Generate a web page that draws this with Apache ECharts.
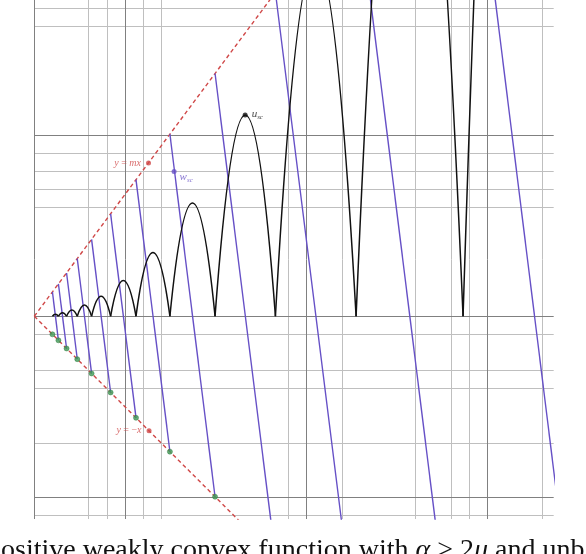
<!DOCTYPE html>
<html>
<head>
<meta charset="utf-8">
<script src="https://cdn.jsdelivr.net/npm/echarts@6/dist/echarts.min.js"></script>
<style>
html, body { margin: 0; padding: 0; background: #fff; }
#chart { width: 586px; height: 554px; }
</style>
</head>
<body>
<div id="chart"></div>
<script>
// visible window, in graph units
const xMin = 0, xMax = 28.65, yMin = -11.2, yMax = 17.47;

// grid lines that are drawn in the figure
const gridXMajor = [0, 5, 15, 25];
const gridXMinor = [3, 4, 6, 7, 14, 17, 21, 23, 24, 28];
const gridYMajor = [10, 0, -10];
const gridYMinor = [17, 16, 9, 8, 7, 6, -1, -3, -4, -7, -11];

// the two cone lines
const lineMx = [[0, 0], [14, 18.83]];
const lineNegX = [[0, 0], [12, -12]];

// u_sc: zeros and arch heights
const uZeros = [1.0, 1.33, 1.78, 2.37, 3.16, 4.21, 5.61, 7.48, 9.97, 13.3, 17.75, 23.65, 31.5];
const uPeaks = [0.11, 0.2, 0.35, 0.62, 1.1, 1.97, 3.52, 6.25, 11.12, 19.7, 35.0, 62.2];

// w_sc: falling pieces, from the top line to the bottom line
const wStarts = [[1.0, 1.35], [1.33, 1.79], [1.78, 2.39], [2.37, 3.19], [3.16, 4.25], [4.21, 5.66],
                 [5.61, 7.55], [7.48, 10.06], [9.97, 13.41], [13.3, 17.89], [17.75, 23.87], [23.65, 31.81]];
const wEnds = [[1.33, -1.33], [1.78, -1.78], [2.37, -2.37], [3.16, -3.16], [4.21, -4.21], [5.61, -5.61],
               [7.48, -7.48], [9.97, -9.97], [13.3, -13.3], [17.75, -17.75], [23.65, -23.65], [31.5, -31.5]];

// green points on y = -x
const hitPoints = [[1.0, -1.0], [1.33, -1.33], [1.78, -1.78], [2.37, -2.37], [3.16, -3.16],
                   [4.21, -4.21], [5.61, -5.61], [7.48, -7.48], [9.97, -9.97]];

// labelled points
const ptMx = [6.3, 8.47];
const ptNegX = [6.33, -6.33];
const ptW = [7.71, 8.0];
const ptU = [11.63, 11.12];

const RED = '#d04848';
const BLUE = '#6650c6';
const GREEN = '#3f9a55';

const chart = echarts.init(document.getElementById('chart'));

function vLines(xs) {
    return xs.map(x => ({ coords: [[x, yMin], [x, yMax]] }));
}
function hLines(ys) {
    return ys.map(y => ({ coords: [[xMin, y], [xMax, y]] }));
}

const arches = [];
for (let i = 0; i < uPeaks.length; i++) {
    arches.push([uZeros[i], uZeros[i + 1], uPeaks[i]]);
}

const wPieces = wStarts.map((s, i) => ({ coords: [s, wEnds[i]] }));

const serifIt = { fontFamily: 'Liberation Serif', fontStyle: 'italic' };

const option = {
    animation: false,
    grid: { left: 34.3, right: 32.3, top: 0, bottom: 35 },
    xAxis: {
        type: 'value', min: xMin, max: xMax,
        axisLine: { show: false }, axisTick: { show: false },
        axisLabel: { show: false }, splitLine: { show: false }
    },
    yAxis: {
        type: 'value', min: yMin, max: yMax,
        axisLine: { show: false }, axisTick: { show: false },
        axisLabel: { show: false }, splitLine: { show: false }
    },
    graphic: [{
        type: 'text',
        left: 1,
        top: 537,
        silent: true,
        style: {
            text: 'ositive weakly convex function with {i|α} > 2{i|μ} and unb',
            font: '28px "Liberation Serif"',
            fill: '#111',
            rich: {
                i: { fontFamily: 'Liberation Serif', fontSize: 28, fontStyle: 'italic', fill: '#111' }
            }
        }
    }],
    series: [
        {
            type: 'lines', coordinateSystem: 'cartesian2d', silent: true, z: 1,
            lineStyle: { color: '#bfbfbf', width: 1, opacity: 1 },
            data: vLines(gridXMinor).concat(hLines(gridYMinor))
        },
        {
            type: 'lines', coordinateSystem: 'cartesian2d', silent: true, z: 2,
            lineStyle: { color: '#808080', width: 1, opacity: 1 },
            data: vLines(gridXMajor).concat(hLines(gridYMajor))
        },
        {
            type: 'lines', coordinateSystem: 'cartesian2d', silent: true, z: 3,
            lineStyle: { color: RED, width: 1.4, type: [4, 3], opacity: 1 },
            data: [{ coords: lineMx }, { coords: lineNegX }]
        },
        {
            type: 'lines', coordinateSystem: 'cartesian2d', silent: true, z: 4,
            lineStyle: { color: BLUE, width: 1.4, opacity: 1 },
            data: wPieces
        },
        {
            type: 'custom', clip: true, silent: true, z: 4,
            data: arches,
            renderItem: function (params, api) {
                const a = api.value(0), b = api.value(1), h = api.value(2);
                const p0 = api.coord([a, 0]);
                const p1 = api.coord([b, 0]);
                const c = api.coord([(a + b) / 2, 2 * h]);
                return {
                    type: 'bezierCurve',
                    shape: { x1: p0[0], y1: p0[1], x2: p1[0], y2: p1[1], cpx1: c[0], cpy1: c[1] },
                    style: { stroke: '#111', lineWidth: 1.5, fill: null }
                };
            }
        },
        {
            type: 'scatter', silent: true, z: 5,
            symbol: 'circle', symbolSize: 5,
            itemStyle: { color: GREEN, borderColor: '#2f7a40', borderWidth: 0.6 },
            data: hitPoints
        },
        {
            type: 'scatter', silent: true, z: 6,
            symbol: 'circle', symbolSize: 5,
            itemStyle: { color: RED },
            label: {
                show: true, position: 'left', distance: 5,
                color: RED, fontSize: 10, fontFamily: 'Liberation Serif',
                formatter: p => p.data.name,
                rich: { it: Object.assign({ color: RED, fontSize: 10 }, serifIt) }
            },
            data: [
                { value: ptMx, name: '{it|y} = {it|mx}' },
                { value: ptNegX, name: '{it|y} = −{it|x}' }
            ]
        },
        {
            type: 'scatter', silent: true, z: 6,
            symbol: 'circle', symbolSize: 5,
            itemStyle: { color: BLUE },
            label: {
                show: true, position: [8, 2],
                formatter: '{v|w}{s|sc}',
                rich: {
                    v: Object.assign({ color: BLUE, fontSize: 11 }, serifIt),
                    s: Object.assign({ color: BLUE, fontSize: 7, padding: [6, 0, 0, 0] }, serifIt)
                }
            },
            data: [ptW]
        },
        {
            type: 'scatter', silent: true, z: 6,
            symbol: 'circle', symbolSize: 5,
            itemStyle: { color: '#111' },
            label: {
                show: true, position: [9, -5],
                formatter: '{v|u}{s|sc}',
                rich: {
                    v: Object.assign({ color: '#111', fontSize: 11 }, serifIt),
                    s: Object.assign({ color: '#111', fontSize: 7, padding: [6, 0, 0, 0] }, serifIt)
                }
            },
            data: [ptU]
        }
    ]
};

chart.setOption(option);
</script>
</body>
</html>
